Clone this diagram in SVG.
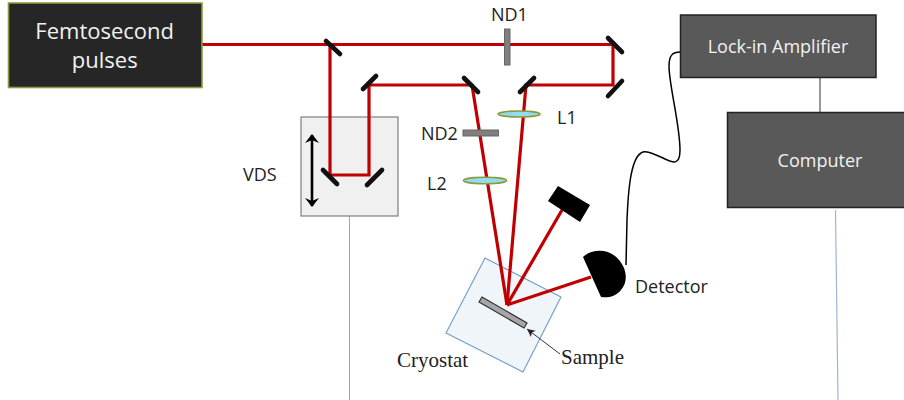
<svg xmlns="http://www.w3.org/2000/svg" width="904" height="400" viewBox="0 0 904 400">
<defs>
<marker id="tip" markerUnits="userSpaceOnUse" markerWidth="10" markerHeight="8" refX="8" refY="4" orient="auto"><path d="M0 0L8 4L0 8L2 4Z" fill="#222"/></marker>
<marker id="bar" markerUnits="userSpaceOnUse" markerWidth="18" markerHeight="18" refX="11" refY="9" orient="auto-start-reverse"><path d="M3 2L12 9L3 16L6 9Z" fill="#000"/></marker>
</defs>
<style>
text{font-family:"Open Sans","Noto Sans",sans-serif;fill:#222;font-size:18px}
.w{fill:#f2f2f2;text-anchor:middle}
.big{font-size:22px}
.s{font-family:"Liberation Serif",serif;font-size:21px;fill:#222}
.beam{fill:none;stroke:#c00000;stroke-width:3.2}
.m{stroke:#111;stroke-width:4.6;stroke-linecap:round}
.box{fill:#595959;stroke:#222;stroke-width:1.5}
.lens{fill:#92dcf0;stroke:#8a9a3c;stroke-width:1.6}
.nd{fill:#7f7f7f;stroke:#666;stroke-width:1}
</style>
<g id="connectors">
<path d="M349.5 216V400" fill="none" stroke="#a6a6a6" stroke-width="1"/>
<path d="M835.500 210L838 400" fill="none" stroke="#9db5d2" stroke-width="1.2"/>
<path d="M820 78V112" fill="none" stroke="#333" stroke-width="1"/>
<path d="M680 52C673 52 669 55 669 66C669 85 680 125 680 150C680 166 673 163 663 158C652 153 645 150 641 153C630 160 628 195 627 220L626 265" fill="none" stroke="#000" stroke-width="1.500"/>
</g>
<g id="vds">
<rect x="301" y="117" width="97" height="99" fill="#f0f0f0" stroke="#7f7f7f" stroke-width="1.2"/>
<path d="M312 135V206" stroke="#000" stroke-width="2.6" marker-start="url(#bar)" marker-end="url(#bar)" fill="none"/>
<text x="243" y="181">VDS</text>
</g>
<g id="cryostat">
<path d="M485 258L561 297L523 372L446 333Z" fill="#f0f5fa" stroke="#6f9cc8" stroke-width="1.1"/>
<text class="s" x="397" y="367">Cryostat</text>
</g>
<g id="beams">
<path class="beam" d="M202 44.500H613V85H526L507 305"/>
<path class="beam" d="M330 44.500V175H369V85H472L507 305"/>
<path class="beam" d="M507 305L562 210M507 305L591 277"/>
</g>
<g id="femtosecond-pulses">
<rect x="8.500" y="3" width="193.500" height="84.500" fill="#262626" stroke="#8a9a3c" stroke-width="1.600"/>
<text class="w big" x="104.700" y="38.500">Femtosecond</text>
<text class="w big" x="104.700" y="68">pulses</text>
</g>
<g id="mirrors">
<path class="m" d="M326 41L340 54"/>
<path class="m" d="M363 89L376 76"/>
<path class="m" d="M464 78L478 92"/>
<path class="m" d="M520 92L534 78"/>
<path class="m" d="M608 38L622 52"/>
<path class="m" d="M608 96L622 81"/>
<path class="m" d="M323 170L337 184"/>
<path class="m" d="M367 185L382 170"/>
</g>
<g id="nd1"><rect class="nd" x="504.500" y="29" width="5.500" height="36"/><text x="491" y="21">ND1</text></g>
<g id="nd2"><rect class="nd" x="463" y="130" width="35.500" height="6"/><text x="421" y="140">ND2</text></g>
<g id="l1"><ellipse class="lens" cx="519" cy="114" rx="21" ry="3"/><text x="557" y="124">L1</text></g>
<g id="l2"><ellipse class="lens" cx="485" cy="180.500" rx="21.500" ry="3.200"/><text x="427" y="190">L2</text></g>
<g id="beam-block"><path d="M558 186L590 205L580 222L548 201Z" fill="#000"/></g>
<g id="detector">
<path d="M583 257C592 249 606 249 615 256C627 266 629 281 621 290C615 297 608 298 601 297Z" fill="#000"/>
<text x="635" y="293">Detector</text>
</g>
<g id="sample">
<path d="M482 297L527 323L524 328L479 302Z" fill="#a6a6a6" stroke="#333" stroke-width="1.200"/>
<path d="M560 354L527 329" fill="none" stroke="#333" stroke-width="1" marker-end="url(#tip)"/>
<text class="s" x="561" y="364">Sample</text>
</g>
<g id="lock-in-amplifier">
<rect class="box" x="680.500" y="15" width="195.500" height="62.500"/>
<text class="w" x="778" y="53">Lock-in Amplifier</text>
</g>
<g id="computer">
<rect class="box" x="727.500" y="112.500" width="190" height="95"/>
<text class="w" x="820" y="167">Computer</text>
</g>
</svg>
